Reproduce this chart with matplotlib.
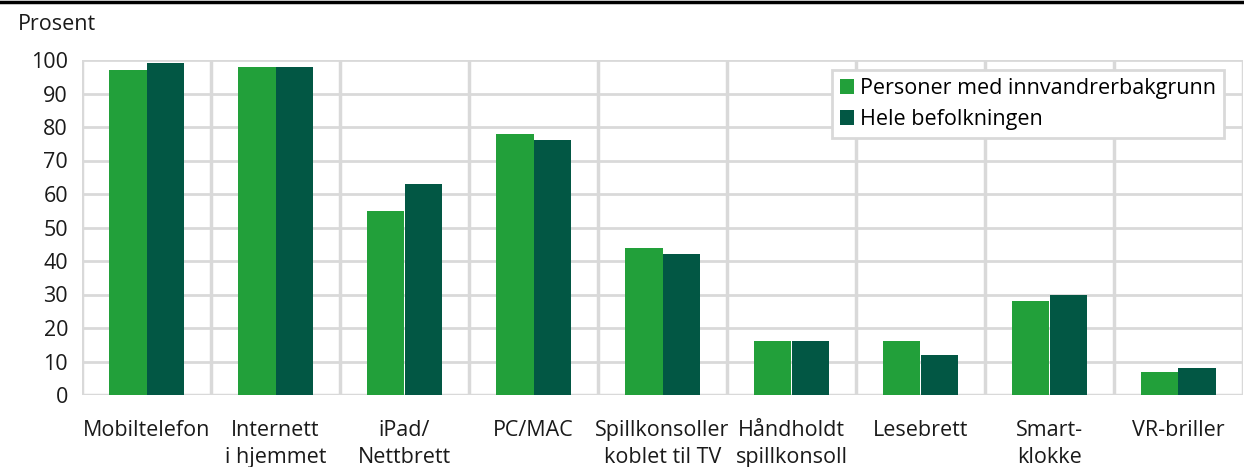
import numpy as np
import matplotlib.pyplot as plt
from matplotlib.lines import Line2D

plt.rcParams['font.family'] = ['Open Sans', 'DejaVu Sans']

categories = ['Mobiltelefon', 'Internett\ni hjemmet', 'iPad/\nNettbrett', 'PC/MAC',
              'Spillkonsoller\nkoblet til TV', 'Håndholdt\nspillkonsoll', 'Lesebrett',
              'Smart-\nklokke', 'VR-briller']
innvandrer = [97, 98, 55, 78, 44, 16, 16, 28, 7]
befolkning = [99, 98, 63, 76, 42, 16, 12, 30, 8]
series_names = ['Personer med innvandrerbakgrunn', 'Hele befolkningen']

fs = 15.5
fig = plt.figure(figsize=(12.44, 4.67), dpi=100)
ax = fig.add_axes([82/1244, 72/467, 1161/1244, 335/467])

x = np.arange(len(categories))
w = 0.287
ax.bar(x - w/2, innvandrer, w, color='#22a03a', label=series_names[0], zorder=3)
ax.bar(x + w/2, befolkning, w, color='#025744', label=series_names[1], zorder=3)

ax.set_xlim(-0.5, len(categories) - 0.5)
ax.set_ylim(0, 100)
ax.set_yticks(range(0, 101, 10))
ax.set_xticks(x)
ax.set_xticklabels(categories, fontsize=fs, color='#1a1a1a', linespacing=1.38)
ax.tick_params(axis='y', labelsize=fs, colors='#1a1a1a', length=0, pad=10)
ax.tick_params(axis='x', length=0, pad=18)

# grid lines
for yv in range(10, 101, 10):
    ax.axhline(yv, color='#d9d9d9', lw=2, zorder=1)
for xv in np.arange(-0.5, len(categories), 1):
    ax.axvline(xv, color='#d9d9d9', lw=2.5, zorder=1)
for s in ax.spines.values():
    s.set_visible(False)
ax.axhline(0, color='#d9d9d9', lw=2.5, zorder=2)

leg = ax.legend(loc='upper right', bbox_to_anchor=(0.984, 0.97), fontsize=fs,
                frameon=True, fancybox=False, edgecolor='#d9d9d9', framealpha=1,
                handlelength=0.65, handleheight=0.65, handletextpad=0.3,
                borderpad=0.38, labelspacing=0.45, borderaxespad=0)
leg.get_frame().set_linewidth(2)

fig.text(18/1244, 1 - 24/467, 'Prosent', fontsize=fs, color='#1a1a1a', va='center', ha='left')
fig.add_artist(Line2D([0, 1], [1 - 1.5/467, 1 - 1.5/467], color='black', lw=2.5))

fig.savefig('out.png', dpi=100)
